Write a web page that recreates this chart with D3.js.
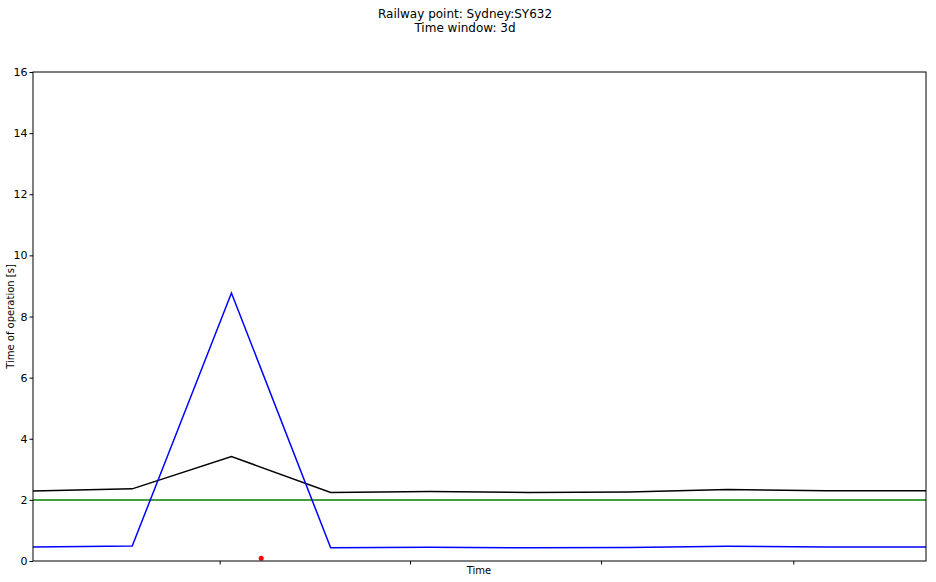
<!DOCTYPE html>
<html>
<head>
<meta charset="utf-8">
<script src="https://cdn.jsdelivr.net/npm/d3@7"></script>
<style>
  body { margin: 0; background: #fff; }
  svg { font-family: "DejaVu Sans", sans-serif; }
</style>
</head>
<body>
<div id="chart"></div>
<script>
// zaman ekseni (saat), 3 günlük pencere
const hours = [0, 8, 16, 24, 32, 40, 48, 56, 64, 72];
const operationTime = [0.46, 0.49, 8.77, 0.43, 0.45, 0.43, 0.44, 0.48, 0.46, 0.46];
const movingAverage = [2.29, 2.36, 3.42, 2.24, 2.27, 2.24, 2.26, 2.34, 2.30, 2.30];
const thresholdValue = [2, 2, 2, 2, 2, 2, 2, 2, 2, 2];
const anomalyHours = [18.4];
const anomalyValues = [0.09];
const xTickHours = [15.05, 30.4, 45.8, 61.3];
const yTicks = [0, 2, 4, 6, 8, 10, 12, 14, 16];

const width = 936, height = 582;
const margin = { top: 72, right: 10, bottom: 21, left: 33 };

let svg = d3.select('#chart')
    .append('svg')
    .attr('width', width)
    .attr('height', height);

const x = d3.scaleLinear()
    .domain([0, 72])
    .range([margin.left, width - margin.right]);

const y = d3.scaleLinear()
    .domain([0, 16])
    .range([height - margin.bottom, margin.top]);

// başlık
svg.append('text')
    .attr('x', 465).attr('y', 18)
    .attr('text-anchor', 'middle')
    .attr('font-size', 12)
    .text('Railway point: Sydney:SY632');
svg.append('text')
    .attr('x', 465).attr('y', 32)
    .attr('text-anchor', 'middle')
    .attr('font-size', 12)
    .text('Time window: 3d');

// eksenler
const yAxis = svg.append('g')
    .attr('transform', `translate(${margin.left},0)`)
    .call(d3.axisLeft(y).tickValues(yTicks).tickSize(3.5).tickPadding(2));
yAxis.select('.domain').remove();
yAxis.selectAll('text').attr('font-size', 11).attr('fill', '#000').attr('font-family', 'DejaVu Sans');

const xAxis = svg.append('g')
    .attr('transform', `translate(0,${height - margin.bottom})`)
    .call(d3.axisBottom(x).tickValues(xTickHours).tickSize(3.5).tickFormat(''));
xAxis.select('.domain').remove();

svg.append('text')
    .attr('x', 479).attr('y', 574)
    .attr('text-anchor', 'middle')
    .attr('font-size', 10)
    .text('Time');

svg.append('text')
    .attr('transform', `translate(14,${(margin.top + height - margin.bottom) / 2}) rotate(-90)`)
    .attr('text-anchor', 'middle')
    .attr('font-size', 10)
    .text('Time of operation [s]');

// çizgiler
const line = d3.line()
    .x((d, i) => x(hours[i]))
    .y(d => y(d));

svg.append('path')
    .datum(thresholdValue)
    .attr('d', line)
    .attr('fill', 'none')
    .attr('stroke', 'green')
    .attr('stroke-width', 1.5);

svg.append('path')
    .datum(movingAverage)
    .attr('d', line)
    .attr('fill', 'none')
    .attr('stroke', 'black')
    .attr('stroke-width', 1.5);

svg.append('path')
    .datum(operationTime)
    .attr('d', line)
    .attr('fill', 'none')
    .attr('stroke', 'blue')
    .attr('stroke-width', 1.5);

svg.selectAll('circle.anomaly')
    .data(anomalyValues)
    .enter()
    .append('circle')
    .attr('class', 'anomaly')
    .attr('cx', (d, i) => x(anomalyHours[i]))
    .attr('cy', d => y(d))
    .attr('r', 2.5)
    .attr('fill', 'red');

// çerçeve
svg.append('rect')
    .attr('x', margin.left)
    .attr('y', margin.top)
    .attr('width', width - margin.left - margin.right)
    .attr('height', height - margin.top - margin.bottom)
    .attr('fill', 'none')
    .attr('stroke', 'black')
    .attr('stroke-width', 1);
</script>
</body>
</html>
